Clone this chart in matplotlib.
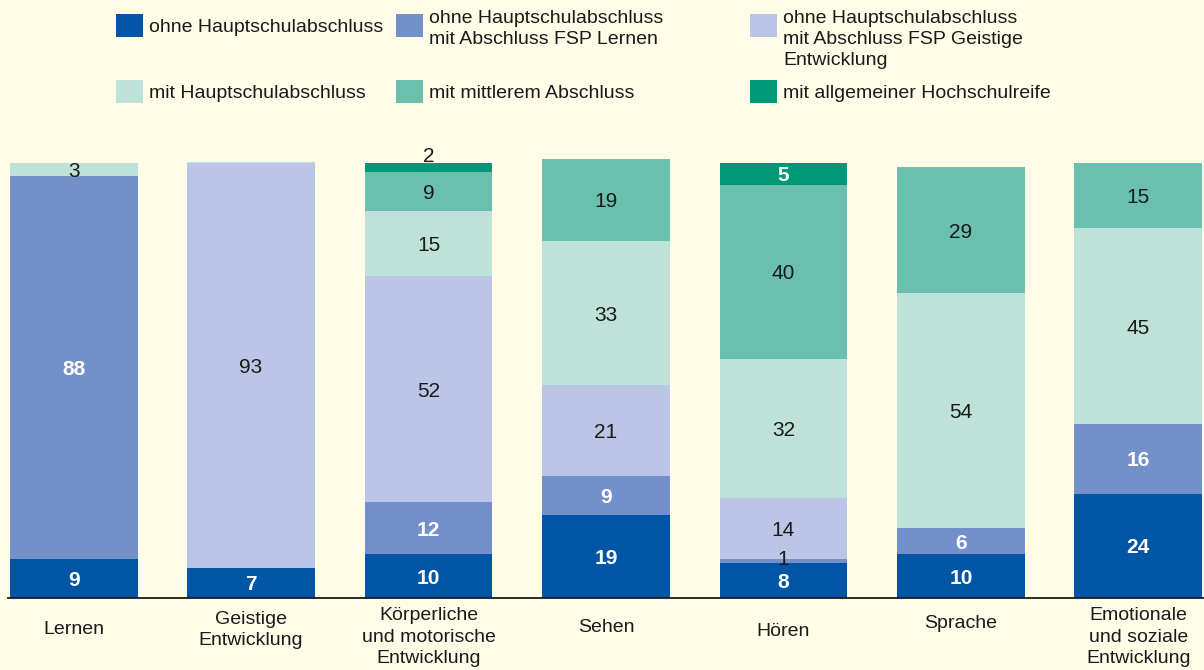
import numpy as np
import matplotlib.pyplot as plt
from matplotlib.patches import Rectangle

plt.rcParams['font.family'] = ['Liberation Sans', 'DejaVu Sans']

categories = ["Lernen", "Geistige\nEntwicklung", "Körperliche\nund motorische\nEntwicklung",
              "Sehen", "Hören", "Sprache", "Emotionale\nund soziale\nEntwicklung"]

series = ["ohne Hauptschulabschluss",
          "ohne Hauptschulabschluss\nmit Abschluss FSP Lernen",
          "ohne Hauptschulabschluss\nmit Abschluss FSP Geistige\nEntwicklung",
          "mit Hauptschulabschluss",
          "mit mittlerem Abschluss",
          "mit allgemeiner Hochschulreife"]

ohne_hsa = [9, 7, 10, 19, 8, 10, 24]
fsp_lernen = [88, 0, 12, 9, 1, 6, 16]
fsp_ge = [0, 93, 52, 21, 14, 0, 0]
mit_hsa = [3, 0.3, 15, 33, 32, 54, 45]
mittlerer = [0, 0, 9, 19, 40, 29, 15]
hochschulreife = [0, 0, 2, 0, 5, 0, 0]

values = [ohne_hsa, fsp_lernen, fsp_ge, mit_hsa, mittlerer, hochschulreife]
colors = ["#0055a4", "#7490ca", "#bbc6e6", "#bfe2d8", "#69c0af", "#009878"]
white_label = [True, True, False, False, False, True]

bg = "#fffde8"
txt = "#1a1a1a"
fig = plt.figure(figsize=(12.04, 6.70), dpi=100, facecolor=bg)
ax = fig.add_axes([8 / 1204, 72 / 670, 1196 / 1204, 439.4 / 670])
ax.set_facecolor(bg)

x = np.arange(len(categories))
bottom = np.zeros(len(categories))
for k, vals in enumerate(values):
    vals = np.array(vals, dtype=float)
    ax.bar(x, vals, bottom=bottom, width=0.72, color=colors[k], linewidth=0, zorder=2)
    for i, v in enumerate(vals):
        if v < 0.5:
            continue
        top_seg = all(values[j][i] == 0 for j in range(k + 1, len(values)))
        small = v <= 2
        if top_seg and small:
            # too thin for the number, put it above the bar
            y, dy = bottom[i] + v, 6
        elif small:
            y, dy = bottom[i] + v / 2, 2
        else:
            y, dy = bottom[i] + v / 2, -2
        bold = white_label[k] and not small
        ax.annotate(f"{v:g}", (x[i], y), xytext=(0, dy), textcoords="offset pixels",
                    ha="center", va="center", fontsize=15,
                    color="white" if bold else txt,
                    fontweight="bold" if bold else "normal", zorder=3)
    bottom += vals

ax.set_xlim(-0.37, 6.37)
ax.set_ylim(0, 101)
for s in ["top", "left", "right"]:
    ax.spines[s].set_visible(False)
ax.spines["bottom"].set_linewidth(1.3)
ax.spines["bottom"].set_color(txt)
ax.spines["bottom"].set_zorder(4)
ax.set_yticks([])
ax.set_xticks(x)
ax.set_xticklabels([])
ax.tick_params(axis="x", length=0)

label_offsets = [31, 32, 39, 30, 33, 26, 39]
for i, cat in enumerate(categories):
    ax.annotate(cat, (x[i], 0), xytext=(0, -label_offsets[i]), textcoords="offset pixels",
                ha="center", va="center", fontsize=14, color=txt, linespacing=1.35)

# legend drawn by hand, two rows of three
leg_x = [116, 396, 750]
leg_y = [14, 80]
for k, name in enumerate(series):
    col, row = k % 3, k // 3
    x0, y0 = leg_x[col], leg_y[row]
    fig.patches.append(Rectangle((x0 / 1204, 1 - (y0 + 23) / 670), 27 / 1204, 23 / 670,
                                 transform=fig.transFigure, facecolor=colors[k],
                                 edgecolor="none"))
    if "\n" in name:
        fig.text((x0 + 33) / 1204, 1 - (y0 - 4) / 670, name, ha="left", va="top",
                 fontsize=14, color=txt, linespacing=1.32)
    else:
        fig.text((x0 + 33) / 1204, 1 - (y0 + 13) / 670, name, ha="left", va="center",
                 fontsize=14, color=txt)

fig.savefig("out.png", dpi=100, facecolor=bg)
